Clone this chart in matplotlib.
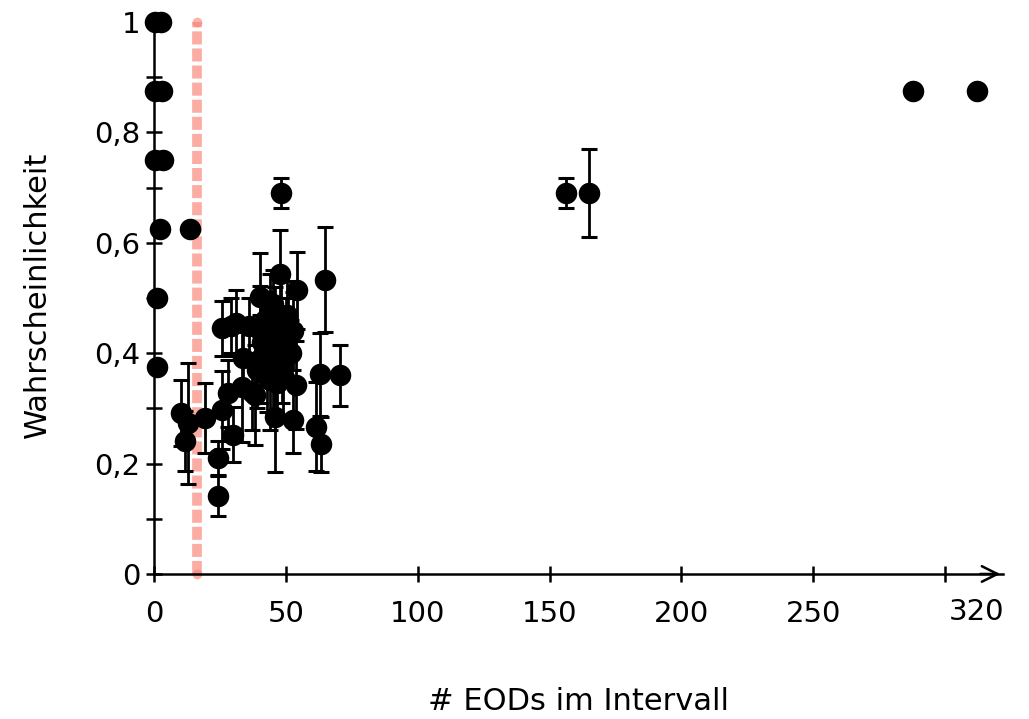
import matplotlib
matplotlib.use('Agg')
import matplotlib.pyplot as plt
import numpy as np

plt.rcParams['font.family'] = ['DejaVu Sans']
plt.rcParams['lines.scale_dashes'] = False

# points sitting at small counts (no error bars)
edge_x = [0.5, 2.5, 0.5, 3.0, 0.5, 3.3, 2.3, 13.5, 1.2, 1.2, 288.0, 312.0]
edge_y = [1.0, 1.0, 0.875, 0.875, 0.75, 0.75, 0.625, 0.625, 0.5, 0.375, 0.875, 0.875]

# points with error bars
pts_x = [10.1, 11.7, 13.0, 19.3, 24.4, 24.4, 25.6, 25.6, 28.1, 30.0,
         29.3, 33.6, 33.2, 38.3, 40.2, 40.2, 44.0, 47.7, 54.4, 64.8,
         52.8, 45.2, 42.7, 44.0, 45.8, 52.8, 54.0, 62.9, 70.5, 61.4,
         63.5, 40.2, 46.5, 48.0, 50.0, 47.0, 42.0, 51.0, 36.0, 31.0,
         37.0, 49.0, 43.0, 52.0, 46.0, 41.0, 45.0, 48.5, 39.0, 50.5,
         48.1, 156.4, 164.8]
pts_y = [0.292, 0.241, 0.273, 0.283, 0.21, 0.141, 0.445, 0.297, 0.327, 0.252,
         0.45, 0.391, 0.339, 0.324, 0.502, 0.442, 0.473, 0.544, 0.514, 0.533,
         0.44, 0.37, 0.394, 0.351, 0.284, 0.279, 0.342, 0.362, 0.36, 0.267,
         0.235, 0.39, 0.346, 0.47, 0.43, 0.41, 0.46, 0.45, 0.45, 0.455,
         0.33, 0.36, 0.40, 0.40, 0.45, 0.42, 0.49, 0.39, 0.37, 0.47,
         0.69, 0.69, 0.69]
pts_err = [0.06, 0.055, 0.11, 0.063, 0.03, 0.036, 0.05, 0.07, 0.06, 0.05,
           0.05, 0.06, 0.1, 0.09, 0.08, 0.08, 0.07, 0.08, 0.07, 0.095,
           0.07, 0.08, 0.1, 0.09, 0.1, 0.06, 0.08, 0.075, 0.055, 0.08,
           0.05, 0.08, 0.07, 0.06, 0.07, 0.06, 0.05, 0.05, 0.05, 0.06,
           0.07, 0.08, 0.06, 0.06, 0.07, 0.07, 0.06, 0.08, 0.07, 0.06,
           0.027, 0.027, 0.08]

threshold = 16.3

x_ticks = [0, 50, 100, 150, 200, 250, 300]
x_labels = ['0', '50', '100', '150', '200', '250', '']
y_ticks = [0, 0.2, 0.4, 0.6, 0.8, 1.0]
y_labels = ['0', '0,2', '0,4', '0,6', '0,8', '1']

fig = plt.figure(figsize=(10.29, 7.19), dpi=100)
ax = fig.add_axes([0.1497, 0.2017, 0.825, 0.7754])

ax.plot([threshold, threshold], [0, 1], color='#fa8072', alpha=0.65, lw=7,
        dashes=(9.4, 2.9), solid_capstyle='butt', zorder=1)
ax.plot([threshold, threshold], [0, 1], 'o', color='#fa8072', alpha=0.6,
        ms=7, mew=0, zorder=1, clip_on=False)

ax.errorbar(pts_x, pts_y, yerr=pts_err, fmt='none', ecolor='black',
            elinewidth=2, capsize=6, capthick=2.2, zorder=2, clip_on=False)
ax.plot(pts_x, pts_y, 'o', color='black', ms=15.5, mew=0, zorder=3, clip_on=False)
ax.plot(edge_x, edge_y, 'o', color='black', ms=15.5, mew=0, zorder=3, clip_on=False)

ax.set_xlim(0, 322)
ax.set_ylim(0, 1.01)

for s in ['top', 'right']:
    ax.spines[s].set_visible(False)
for s in ['left', 'bottom']:
    ax.spines[s].set_linewidth(1.8)

ax.set_xticks(x_ticks)
ax.set_xticklabels(x_labels)
ax.set_yticks(y_ticks)
ax.set_yticklabels(y_labels)
ax.set_yticks([0.1, 0.3, 0.5, 0.7, 0.9], minor=True)
ax.tick_params(axis='both', which='both', direction='inout', length=12, width=1.8,
               labelsize=21)
ax.tick_params(axis='x', pad=13)
ax.tick_params(axis='y', pad=4)

ax.text(312, -0.069, '320', fontsize=21, ha='center', va='center',
        transform=ax.transData, clip_on=False)

ax.annotate('', xy=(1.0, 0), xytext=(0.97, 0), xycoords='axes fraction',
            arrowprops=dict(arrowstyle='->', lw=1.8, color='black', mutation_scale=28))

ax.set_ylabel('Wahrscheinlichkeit', fontsize=22, labelpad=30)
ax.set_xlabel('# EODs im Intervall', fontsize=22, labelpad=42)

plt.savefig('out.png', dpi=100)
